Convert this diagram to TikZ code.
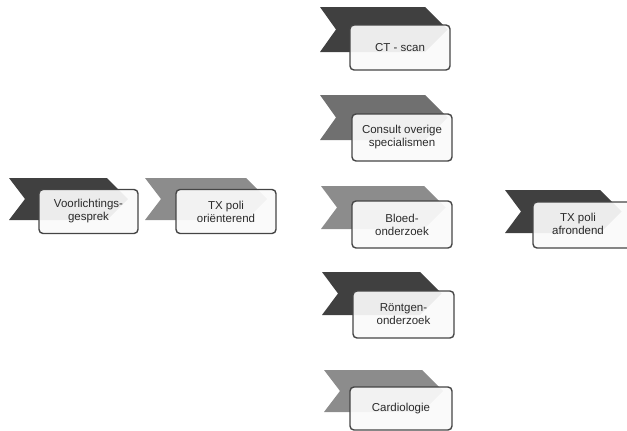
\documentclass[tikz,border=0pt]{standalone}
\usepackage{fontspec}
\setmainfont{Liberation Sans}
\definecolor{cdark}{HTML}{404040}
\definecolor{cmid}{HTML}{707070}
\definecolor{clight}{HTML}{8C8C8C}
\definecolor{cborder}{HTML}{454545}
\definecolor{ctext}{HTML}{2A2A2A}
\definecolor{cboxfill}{HTML}{FAFAFA}
\newcommand{\chev}[5]{% L, T, B, R, colour
  \fill[#5] (#1,#2) -- (#4,#2) -- ({#4+(#3-#2)/2},{(#2+#3)/2}) -- (#4,#3)
    -- (#1,#3) -- ({#1+16},{(#2+#3)/2}) -- cycle;}
\tikzset{
  box/.style={draw=cborder, line width=1.4pt, rounded corners=4pt,
    fill=cboxfill, fill opacity=0.93, text opacity=1, text=ctext,
    inner sep=0pt, align=center,
    font=\fontsize{11.5}{13}\selectfont}
}
\begin{document}
\begin{tikzpicture}[x=1pt,y=-1pt]
\useasboundingbox (0,0) rectangle (627,431);
% Voorlichtingsgesprek
\chev{9}{178}{220}{107}{cdark}
\node[box, minimum width=99pt, minimum height=44pt] (voor) at (88.5,211.5) {Voorlichtings-\\gesprek};
% TX poli orienterend
\chev{145}{178}{220}{246}{clight}
\node[box, minimum width=100pt, minimum height=44pt] (txo) at (226,211.5) {TX poli\\oriënterend};
% CT - scan
\chev{320}{7}{52}{425}{cdark}
\node[box, minimum width=100pt, minimum height=45pt] (ct) at (400,47.5) {CT - scan};
% Consult overige specialismen
\chev{320}{95}{140}{425}{cmid}
\node[box, minimum width=100pt, minimum height=47pt] (cons) at (402,137.5) {Consult overige\\specialismen};
% Bloedonderzoek
\chev{321}{186}{229}{424}{clight}
\node[box, minimum width=100pt, minimum height=47pt] (bloed) at (402,224.5) {Bloed-\\onderzoek};
% Rontgenonderzoek
\chev{322}{272}{315}{420}{cdark}
\node[box, minimum width=101pt, minimum height=47pt] (rontgen) at (403.5,314.5) {Röntgen-\\onderzoek};
% Cardiologie
\chev{324}{370}{412}{422}{clight}
\node[box, minimum width=102pt, minimum height=43pt] (cardio) at (401,408.5) {Cardiologie};
% TX poli afrondend
\chev{505}{190}{233}{600}{cdark}
\node[box, minimum width=101pt, minimum height=46pt] (txa) at (583.5,225) {};
\node[text=ctext, font=\fontsize{11.5}{13}\selectfont, align=center, inner sep=0pt] (txat) at (578,224) {TX poli\\afrondend};
\end{tikzpicture}
\end{document}
